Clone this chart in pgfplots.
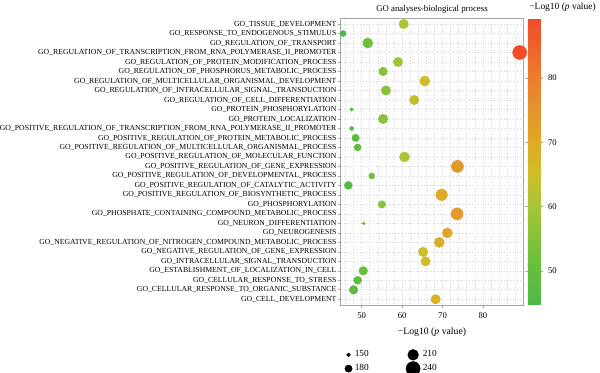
\documentclass[border=0pt]{standalone}
\usepackage{pgfplots}
\pgfplotsset{compat=1.18}
\usepackage{pgfplotstable}
\usepackage{fontspec}
\setmainfont{Liberation Serif}

\pgfplotsset{colormap={gy}{rgb255(0)=(76,184,72) rgb255(5.3)=(100,190,62) rgb255(15.3)=(165,198,55) rgb255(20.3)=(205,190,40) rgb255(25.3)=(222,170,40) rgb255(35.3)=(235,125,45) rgb255(44.6)=(240,75,42)}}

\pgfplotstableread{
y x s
1 60.4 201
2 45.4 172
3 51.5 206
4 89.1 240
5 59.0 201
6 55.3 194
7 65.6 206
8 56.0 201
9 63.0 201
10 47.5 150
11 55.3 201
12 47.5 155
13 48.5 184
14 49.0 180
15 60.6 206
16 73.7 223
17 52.5 172
18 46.7 189
19 69.8 218
20 55.0 184
21 73.6 223
22 50.5 145
23 71.2 206
24 69.2 206
25 65.2 201
26 65.8 201
27 50.4 194
28 49.0 189
29 48.0 194
30 68.3 201
}\godata

\begin{document}
\begin{tikzpicture}
\useasboundingbox (-255.5pt,-50.25pt) rectangle (194.5pt,228.75pt);
\begin{axis}[
  at={(0,0)}, anchor=south west,
  scale only axis, width=137pt, height=215pt,
  xmin=44.8, xmax=90, ymin=0.4, ymax=30.6, y dir=reverse,
  xtick={50,60,70,80}, minor xtick={46,48,...,88},
  ytick={1,...,30},
  yticklabels={GO\_TISSUE\_DEVELOPMENT,
GO\_RESPONSE\_TO\_ENDOGENOUS\_STIMULUS,
GO\_REGULATION\_OF\_TRANSPORT,
GO\_REGULATION\_OF\_TRANSCRIPTION\_FROM\_RNA\_POLYMERASE\_II\_PROMOTER,
GO\_REGULATION\_OF\_PROTEIN\_MODIFICATION\_PROCESS,
GO\_REGULATION\_OF\_PHOSPHORUS\_METABOLIC\_PROCESS,
GO\_REGULATION\_OF\_MULTICELLULAR\_ORGANISMAL\_DEVELOPMENT,
GO\_REGULATION\_OF\_INTRACELLULAR\_SIGNAL\_TRANSDUCTION,
GO\_REGULATION\_OF\_CELL\_DIFFERENTIATION,
GO\_PROTEIN\_PHOSPHORYLATION,
GO\_PROTEIN\_LOCALIZATION,
GO\_POSITIVE\_REGULATION\_OF\_TRANSCRIPTION\_FROM\_RNA\_POLYMERASE\_II\_PROMOTER,
GO\_POSITIVE\_REGULATION\_OF\_PROTEIN\_METABOLIC\_PROCESS,
GO\_POSITIVE\_REGULATION\_OF\_MULTICELLULAR\_ORGANISMAL\_PROCESS,
GO\_POSITIVE\_REGULATION\_OF\_MOLECULAR\_FUNCTION,
GO\_POSITIVE\_REGULATION\_OF\_GENE\_EXPRESSION,
GO\_POSITIVE\_REGULATION\_OF\_DEVELOPMENTAL\_PROCESS,
GO\_POSITIVE\_REGULATION\_OF\_CATALYTIC\_ACTIVITY,
GO\_POSITIVE\_REGULATION\_OF\_BIOSYNTHETIC\_PROCESS,
GO\_PHOSPHORYLATION,
GO\_PHOSPHATE\_CONTAINING\_COMPOUND\_METABOLIC\_PROCESS,
GO\_NEURON\_DIFFERENTIATION,
GO\_NEUROGENESIS,
GO\_NEGATIVE\_REGULATION\_OF\_NITROGEN\_COMPOUND\_METABOLIC\_PROCESS,
GO\_NEGATIVE\_REGULATION\_OF\_GENE\_EXPRESSION,
GO\_INTRACELLULAR\_SIGNAL\_TRANSDUCTION,
GO\_ESTABLISHMENT\_OF\_LOCALIZATION\_IN\_CELL,
GO\_CELLULAR\_RESPONSE\_TO\_STRESS,
GO\_CELLULAR\_RESPONSE\_TO\_ORGANIC\_SUBSTANCE,
GO\_CELL\_DEVELOPMENT},
  /pgf/number format/assume math mode=true,
  grid=both,
  major grid style={gray!35, dotted, line width=0.5pt},
  minor grid style={gray!35, dotted, line width=0.5pt},
  axis line style={gray!70, line width=0.6pt},
  tick style={gray!70, line width=0.5pt},
  tick align=outside, tick pos=left,
  major tick length=2pt, minor tick length=0pt,
  yticklabel style={font=\fontsize{5.8}{6}\selectfont, inner sep=1pt},
  xticklabel style={font=\fontsize{6.5}{7}\selectfont},
  title={GO analyses-biological process},
  title style={font=\fontsize{6.6}{8}\selectfont, inner sep=2pt, yshift=-4.5pt},
  xlabel={−Log10 (\textit{p} value)},
  xlabel style={font=\fontsize{7.3}{8}\selectfont},
  colormap name=gy,
  point meta min=44.7, point meta max=89.3,
  colorbar,
  colorbar style={
    at={(parent axis.north east)}, anchor=north west, xshift=-5.2pt,
    width=9.75pt,
    ytick={50,60,70,80},
    axis line style={draw=none},
    tick style={gray!70, line width=0.5pt},
    major tick length=2pt,
    tick align=outside,
    yticklabel style={font=\fontsize{6.5}{7}\selectfont},
    /pgf/number format/assume math mode=true,
    title={−Log10 (\textit{p} value)},
    title style={at={(0,1)}, anchor=south west, font=\fontsize{7.1}{8}\selectfont, inner sep=1pt, yshift=-2pt},
  },
  legend columns=2,
  legend cell align=left,
  legend style={draw=none, fill=none, at={(0.0,-0.14)}, anchor=north west,
    font=\fontsize{7}{8}\selectfont,
    /tikz/every even column/.append style={column sep=26pt}},
]
\addplot[scatter, only marks, mark=*, forget plot,
  point meta=\thisrow{x},
  scatter/use mapped color={draw=mapped color, fill=mapped color},
  visualization depends on={(1.7+(\thisrow{s}-150)*0.0589)*0.75 \as \perpointr},
  scatter/@pre marker code/.append style={/tikz/mark size=\perpointr}
] table[x=x, y=y] {\godata};
\addlegendimage{only marks, mark=*, black, mark size=1.4pt}
\addlegendentry{150}
\addlegendimage{only marks, mark=*, black, mark size=4pt}
\addlegendentry{210}
\addlegendimage{only marks, mark=*, black, mark size=2.7pt}
\addlegendentry{180}
\addlegendimage{only marks, mark=*, black, mark size=5.25pt}
\addlegendentry{240}
\end{axis}
\end{tikzpicture}
\end{document}
